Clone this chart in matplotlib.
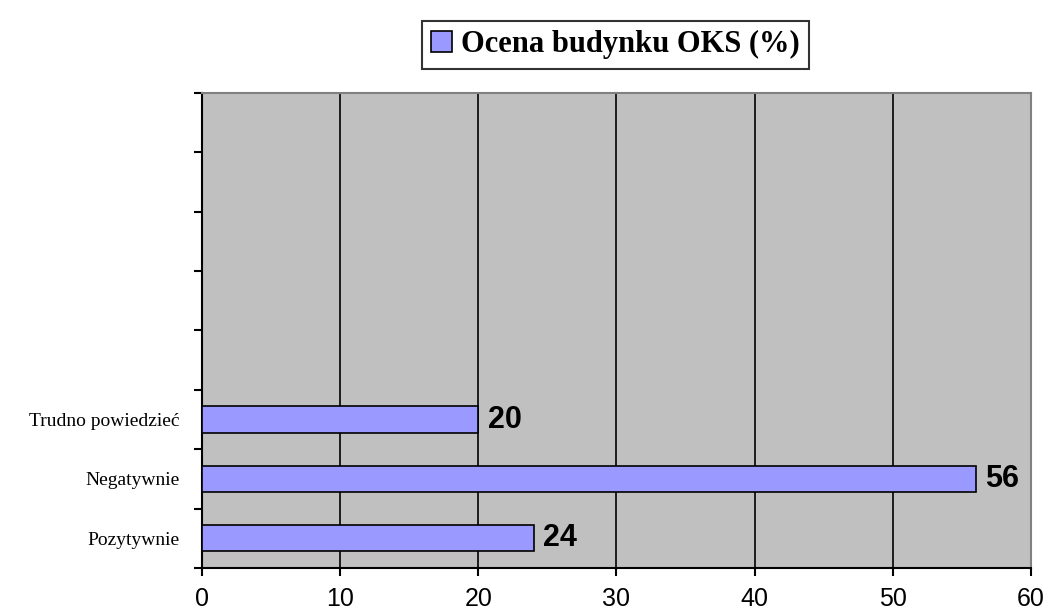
import numpy as np
import matplotlib.pyplot as plt
from matplotlib.patches import Patch

# Dane
categories = ['Pozytywnie', 'Negatywnie', 'Trudno powiedzieć', '', '', '', '', '']
values = [24, 56, 20, np.nan, np.nan, np.nan, np.nan, np.nan]
legend_label = 'Ocena budynku OKS (%)'
x_ticks = [0, 10, 20, 30, 40, 50, 60]

fig = plt.figure(figsize=(10.52, 6.15), dpi=100)
ax = fig.add_axes([0.192, 0.0764, 0.788, 0.7726])
ax.set_facecolor('#C0C0C0')

y = np.arange(len(categories))
ax.barh(y, values, height=0.44, color='#9999FF', edgecolor='black', linewidth=1.2, zorder=3)

for yi, v in zip(y, values):
    if not np.isnan(v):
        ax.text(v + 0.7, yi, f'{v:g}', va='center', ha='left', fontsize=22,
                fontweight='bold', family='Liberation Sans', zorder=4)

ax.set_xlim(0, 60)
ax.set_ylim(-0.5, len(categories) - 0.5)
ax.set_xticks(x_ticks)
ax.set_xticklabels([str(t) for t in x_ticks], family='Liberation Sans', fontsize=18)
ax.tick_params(axis='x', direction='out', length=6, width=1.5, pad=8)

# etykiety kategorii w środku, kreski na granicach
ax.set_yticks(y)
ax.set_yticklabels(categories, family='Liberation Serif', fontsize=14)
ax.tick_params(axis='y', which='major', length=0, pad=16)
ax.set_yticks(np.arange(len(categories) + 1) - 0.5, minor=True)
ax.tick_params(axis='y', which='minor', direction='out', length=6, width=1.5)

ax.grid(axis='x', color='black', linewidth=1.2, zorder=1)
ax.set_axisbelow(True)
for s in ['top', 'right']:
    ax.spines[s].set_color('#808080')
    ax.spines[s].set_linewidth(1.5)
for s in ['left', 'bottom']:
    ax.spines[s].set_color('black')
    ax.spines[s].set_linewidth(1.5)

handle = Patch(facecolor='#9999FF', edgecolor='black', linewidth=1.2)
leg = fig.legend([handle], [legend_label], loc='center', bbox_to_anchor=(0.585, 0.927),
                 prop={'family': 'Liberation Serif', 'weight': 'bold', 'size': 22},
                 frameon=True, fancybox=False, edgecolor='black', handlelength=0.7,
                 handleheight=0.7, handletextpad=0.3, borderpad=0.3)
leg.get_frame().set_linewidth(1.5)

fig.savefig('out.png', dpi=100)
